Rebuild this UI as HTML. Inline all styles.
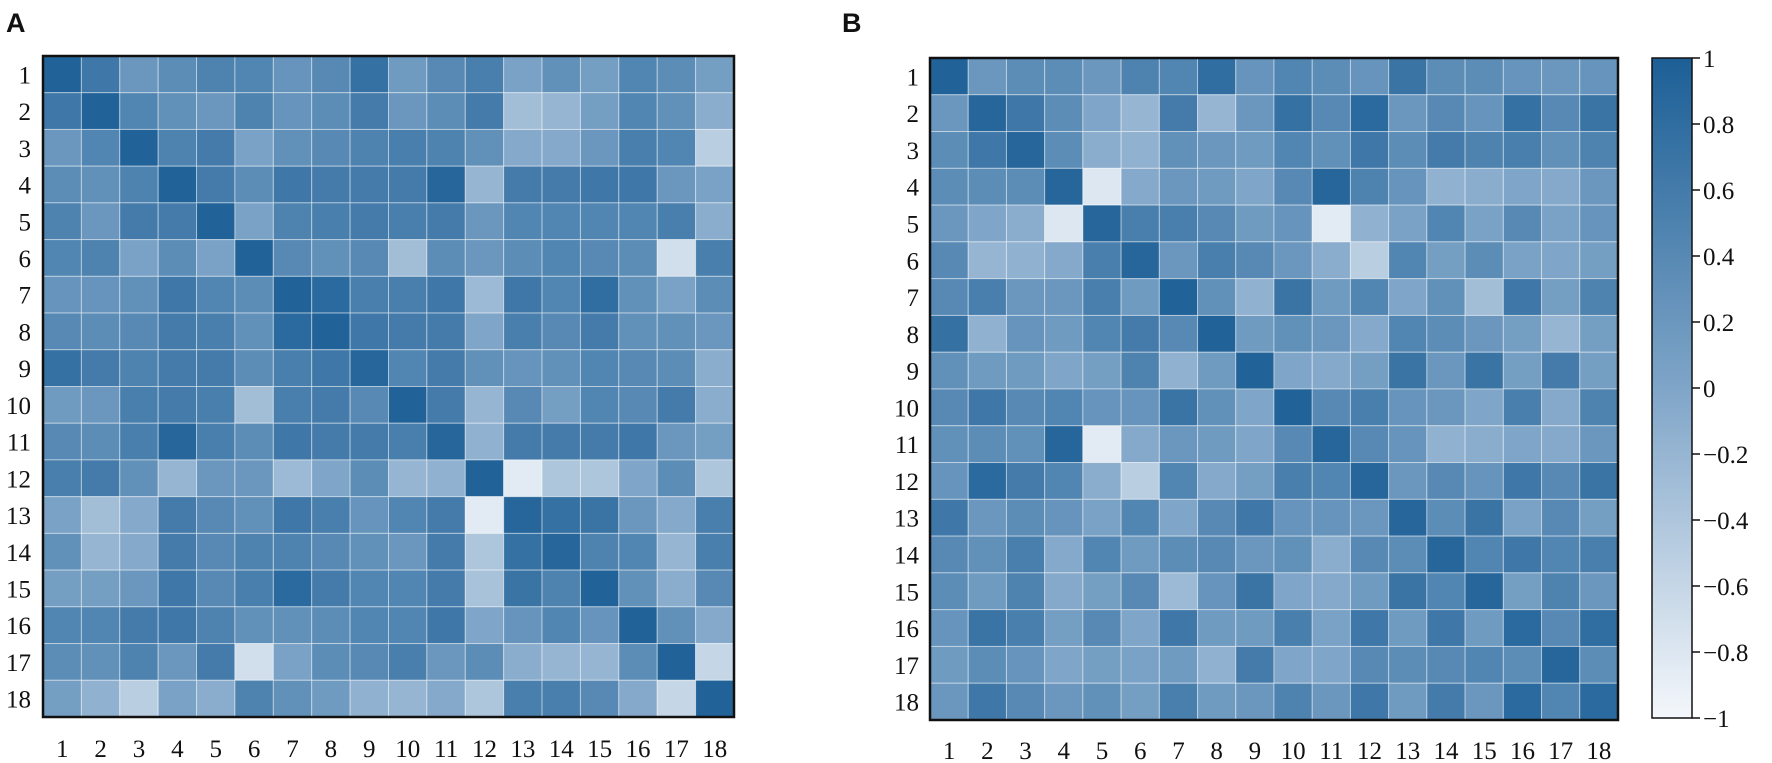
<!DOCTYPE html>
<html><head><meta charset="utf-8"><style>
html,body{margin:0;padding:0;background:#fff;}
svg{display:block;}
text{font-family:"Liberation Serif",serif;fill:#111;}
</style></head><body>
<svg id="fig" width="1772" height="763" viewBox="0 0 1772 763">
<defs><linearGradient id="cbg" x1="0" y1="1" x2="0" y2="0">
<stop offset="0" stop-color="#f4f7fb"/><stop offset="0.5" stop-color="#7fa5c8"/><stop offset="1" stop-color="#1c5f96"/></linearGradient></defs>
<text x="6" y="32" style="font-family:'Liberation Sans',sans-serif;font-weight:bold;font-size:27px">A</text>
<text x="842" y="32" style="font-family:'Liberation Sans',sans-serif;font-weight:bold;font-size:27px">B</text>
<g id="ga"></g>
<g id="gb"></g>
<g id="cb"></g>
</svg>
<script>
const labels = ["1","2","3","4","5","6","7","8","9","10","11","12","13","14","15","16","17","18"];
const cbTicks = [1,0.8,0.6,0.4,0.2,0,-0.2,-0.4,-0.6,-0.8,-1];
const cbTickLabels = ["1","0.8","0.6","0.4","0.2","0","\u22120.2","\u22120.4","\u22120.6","\u22120.8","\u22121"];
const matrixA = [
[0.95,0.65,0.2,0.35,0.5,0.45,0.25,0.4,0.75,0.15,0.4,0.55,0.05,0.3,0.1,0.45,0.35,0.1],
[0.65,0.95,0.45,0.3,0.2,0.5,0.25,0.35,0.6,0.2,0.35,0.6,-0.3,-0.2,0.1,0.45,0.3,-0.1],
[0.2,0.45,0.95,0.5,0.6,0.05,0.3,0.4,0.5,0.55,0.5,0.3,-0.05,-0.05,0.2,0.55,0.45,-0.5],
[0.35,0.3,0.5,0.95,0.6,0.35,0.65,0.6,0.6,0.6,0.9,-0.2,0.6,0.6,0.65,0.65,0.2,0.05],
[0.5,0.2,0.6,0.6,0.95,0.05,0.5,0.55,0.6,0.55,0.6,0.2,0.45,0.45,0.45,0.45,0.55,-0.1],
[0.45,0.5,0.05,0.35,0.05,0.95,0.4,0.3,0.4,-0.3,0.35,0.2,0.35,0.45,0.4,0.35,-0.7,0.55],
[0.25,0.25,0.3,0.65,0.45,0.35,0.95,0.85,0.55,0.55,0.65,-0.25,0.65,0.45,0.8,0.3,0.05,0.35],
[0.4,0.35,0.4,0.6,0.55,0.3,0.85,0.95,0.65,0.6,0.6,0.0,0.55,0.4,0.6,0.3,0.3,0.2],
[0.75,0.6,0.5,0.6,0.6,0.35,0.55,0.65,0.9,0.45,0.6,0.3,0.25,0.3,0.45,0.4,0.35,-0.1],
[0.15,0.2,0.55,0.6,0.55,-0.3,0.55,0.6,0.4,0.95,0.6,-0.2,0.4,0.1,0.45,0.4,0.6,-0.1],
[0.4,0.35,0.55,0.9,0.55,0.35,0.65,0.6,0.6,0.55,0.9,-0.15,0.6,0.6,0.6,0.65,0.2,0.1],
[0.55,0.6,0.3,-0.2,0.2,0.2,-0.25,0.0,0.35,-0.2,-0.15,0.95,-0.85,-0.4,-0.4,0.0,0.35,-0.4],
[0.05,-0.3,-0.05,0.6,0.4,0.3,0.65,0.55,0.25,0.45,0.6,-0.85,0.9,0.75,0.7,0.2,-0.05,0.55],
[0.3,-0.2,-0.05,0.6,0.4,0.5,0.5,0.4,0.3,0.2,0.6,-0.4,0.75,0.9,0.5,0.45,-0.2,0.55],
[0.1,0.1,0.2,0.65,0.4,0.55,0.85,0.6,0.45,0.45,0.6,-0.35,0.7,0.5,0.95,0.3,-0.1,0.4],
[0.45,0.45,0.6,0.65,0.5,0.3,0.3,0.35,0.45,0.45,0.65,0.0,0.25,0.45,0.25,0.95,0.3,-0.05],
[0.35,0.3,0.5,0.2,0.6,-0.7,0.05,0.35,0.4,0.55,0.2,0.35,-0.1,-0.2,-0.2,0.35,0.95,-0.6],
[0.1,-0.15,-0.5,0.05,-0.1,0.5,0.3,0.15,-0.15,-0.2,-0.05,-0.4,0.55,0.55,0.4,-0.05,-0.6,0.95]];
const matrixB = [
[0.95,0.2,0.35,0.35,0.2,0.5,0.45,0.8,0.25,0.45,0.35,0.25,0.7,0.35,0.35,0.25,0.2,0.25],
[0.2,0.9,0.65,0.35,0.0,-0.2,0.6,-0.2,0.2,0.75,0.4,0.85,0.2,0.4,0.25,0.75,0.4,0.7],
[0.35,0.65,0.9,0.35,-0.1,-0.15,0.3,0.2,0.15,0.45,0.3,0.65,0.35,0.6,0.5,0.55,0.3,0.5],
[0.35,0.35,0.35,0.9,-0.8,-0.05,0.2,0.15,0.0,0.4,0.9,0.5,0.25,-0.15,-0.1,0.0,-0.05,0.2],
[0.2,0.0,-0.1,-0.8,0.9,0.55,0.55,0.4,0.15,0.25,-0.85,-0.15,0.05,0.45,0.05,0.4,0.05,0.25],
[0.4,-0.2,-0.15,-0.05,0.55,0.9,0.2,0.55,0.4,0.2,-0.1,-0.5,0.45,0.1,0.35,0.05,0.0,0.1],
[0.4,0.55,0.2,0.2,0.55,0.15,0.95,0.3,-0.15,0.7,0.15,0.45,0.0,0.3,-0.3,0.65,0.1,0.5],
[0.75,-0.15,0.25,0.15,0.45,0.6,0.4,0.95,0.15,0.3,0.2,-0.05,0.45,0.35,0.2,0.1,-0.2,0.1],
[0.3,0.15,0.15,0.0,0.1,0.5,-0.15,0.15,0.95,0.0,-0.05,0.1,0.7,0.2,0.7,0.1,0.6,0.1],
[0.4,0.65,0.4,0.45,0.25,0.25,0.7,0.3,0.0,0.95,0.4,0.55,0.25,0.2,0.0,0.55,-0.05,0.5],
[0.3,0.35,0.3,0.9,-0.85,-0.05,0.2,0.15,0.0,0.4,0.9,0.4,0.25,-0.15,-0.1,0.0,-0.05,0.2],
[0.25,0.85,0.6,0.45,-0.1,-0.5,0.45,-0.05,0.1,0.55,0.45,0.9,0.2,0.4,0.25,0.65,0.4,0.7],
[0.65,0.2,0.35,0.25,0.05,0.45,0.0,0.4,0.65,0.25,0.25,0.2,0.9,0.35,0.7,0.05,0.4,0.1],
[0.4,0.3,0.55,-0.05,0.45,0.15,0.35,0.4,0.2,0.3,-0.1,0.4,0.35,0.9,0.45,0.65,0.45,0.55],
[0.35,0.15,0.5,-0.05,0.1,0.4,-0.25,0.25,0.7,0.0,-0.05,0.15,0.7,0.45,0.9,0.1,0.5,0.2],
[0.25,0.7,0.55,0.1,0.4,0.0,0.65,0.15,0.15,0.55,0.05,0.65,0.15,0.65,0.15,0.85,0.4,0.8],
[0.15,0.35,0.25,0.0,0.1,0.05,0.15,-0.15,0.6,0.0,0.0,0.4,0.35,0.4,0.45,0.35,0.9,0.35],
[0.2,0.65,0.4,0.2,0.3,0.1,0.55,0.15,0.2,0.5,0.2,0.65,0.15,0.6,0.2,0.85,0.45,0.85]];

const NS = "http://www.w3.org/2000/svg";
function mk(tag, attrs){const e=document.createElementNS(NS,tag);for(const k in attrs)e.setAttribute(k,attrs[k]);return e;}
function color(v){
  const t=Math.max(0,Math.min(1,(v+1)/2));
  const a=[244,247,251], m=[127,165,200], b=[28,95,150];
  let p,q,s;
  if(t<0.5){p=a;q=m;s=t/0.5;}else{p=m;q=b;s=(t-0.5)/0.5;}
  return "rgb("+p.map((c,i)=>Math.round(c+(q[i]-c)*s)).join(",")+")";
}
function drawHeatmap(gid, data, x0, y0, x1, y1, rowLabelX, colLabelY, prefix){
  const g=document.getElementById(gid);
  const n=labels.length, cw=(x1-x0)/n, ch=(y1-y0)/n;
  const xs=i=>x0+i*cw, ys=j=>y0+j*ch;
  data.forEach((row,r)=>row.forEach((v,c)=>{
    const rect=mk("rect",{x:xs(c),y:ys(r),width:cw,height:ch,fill:color(v),stroke:"rgba(255,255,255,0.45)","stroke-width":1});
    
    
    g.appendChild(rect);
  }));
  const border=mk("rect",{x:x0,y:y0,width:x1-x0,height:y1-y0,fill:"none",stroke:"#111","stroke-width":2.5});
  
  
  g.appendChild(border);
  labels.forEach((l,i)=>{
    const t=mk("text",{x:rowLabelX,y:ys(i)+ch/2+9,"text-anchor":"end","font-size":25});
    t.textContent=l;
    
    
    g.appendChild(t);
    const u=mk("text",{x:xs(i)+cw/2,y:colLabelY,"text-anchor":"middle","font-size":25});
    u.textContent=l;
    
    
    g.appendChild(u);
  });
}
drawHeatmap("ga", matrixA, 43, 56, 734, 717, 31, 757, "heatmap-a");
drawHeatmap("gb", matrixB, 930, 58, 1618, 720, 919, 759, "heatmap-b");

(function(){
  const g=document.getElementById("cb");
  const x0=1652,x1=1692,y0=58,y1=718;
  const ys=v=>y1-(v+1)/2*(y1-y0);
  const bar=mk("rect",{x:x0,y:y0,width:x1-x0,height:y1-y0,fill:"url(#cbg)",stroke:"#111","stroke-width":1.5});
  
  
  g.appendChild(bar);
  cbTicks.forEach((v,i)=>{
    const ln=mk("line",{x1:x1,x2:x1+8,y1:ys(v),y2:ys(v),stroke:"#111","stroke-width":1.5});
    
    
    g.appendChild(ln);
    const t=mk("text",{x:x1+11,y:ys(v)+9,"font-size":25});
    t.textContent=cbTickLabels[i];
    
    
    g.appendChild(t);
  });
})();
</script>
</body></html>
